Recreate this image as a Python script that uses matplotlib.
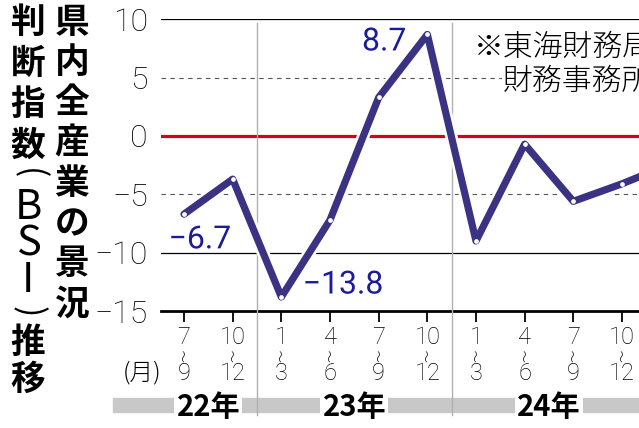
import matplotlib
matplotlib.use("Agg")
import matplotlib.pyplot as plt
import matplotlib.patheffects as pe
from matplotlib.transforms import blended_transform_factory
from matplotlib.patches import Rectangle

# ---------------- data ----------------
q_start = ["7", "10", "1", "4", "7", "10", "1", "4", "7", "10", "1"]
q_end = ["9", "12", "3", "6", "9", "12", "3", "6", "9", "12", "3"]
bsi = [-6.7, -3.7, -13.8, -7.2, 3.3, 8.7, -9.0, -0.7, -5.6, -4.1, -2.4]
years = ["22年", "23年", "24年"]
year_first = [0, 2, 6]
year_last = [1, 5, 9]
yticks = [10, 5, 0, -5, -10, -15]
ytick_labels = ["10", "5", "0", "−5", "−10", "−15"]
value_labels = {0: "−6.7", 2: "−13.8", 5: "8.7"}
title_right = list("県内全産業の景況")
title_left = ["判", "断", "指", "数", "(", "B\nS\nI", ")", "推", "移"]
note_1 = "※東海財務局静岡"
note_2 = "財務事務所調べ"
unit_label = "(月)"

# ---------------- layout ----------------
W, H = 639, 428
fig = plt.figure(figsize=(W / 100, H / 100), dpi=100)
fig.patch.set_facecolor("white")

def fx(px):
    return px / W

def fy(py):
    return 1 - py / H

ax_left, ax_bottom, ax_top = 161, 311, 19.3
ax = fig.add_axes([fx(ax_left), fy(ax_bottom), 1 - fx(ax_left), (ax_bottom - ax_top) / H])
ax.set_xlim(-0.473, 9.35)
ax.set_ylim(-15, 10)
ax.patch.set_alpha(0)
for s in ["top", "right", "left"]:
    ax.spines[s].set_visible(False)
ax.spines["bottom"].set_linewidth(2.0)
ax.spines["bottom"].set_color("black")

NUM = "Roboto"
JP = "Noto Sans CJK JP"

ax.set_yticks(yticks)
ax.set_yticklabels(ytick_labels, fontsize=23, family=NUM, fontweight="light")
ax.tick_params(axis="y", length=0, pad=9.5)
ax.set_xticks(range(10))
ax.set_xticklabels([])
ax.tick_params(axis="x", length=8, width=1.3, direction="out", color="black")

# horizontal reference lines
line_style = {
    10: dict(color="black", lw=0.9, ls="-"),
    5: dict(color="#555555", lw=0.8, ls=(0, (4, 4))),
    0: dict(color="#d4001f", lw=2.3, ls="-"),
    -5: dict(color="#555555", lw=0.8, ls=(0, (4, 4))),
    -10: dict(color="black", lw=0.9, ls="-"),
}
for v, st in line_style.items():
    ax.axhline(v, zorder=2, **st)

# year separators
bt = blended_transform_factory(ax.transData, ax.transAxes)
sep_top = (ax_bottom - 23) / (ax_bottom - ax_top)
sep_bot = (ax_bottom - 415) / (ax_bottom - ax_top)
for i in range(len(years) - 1):
    xs = (year_last[i] + year_first[i + 1]) / 2
    ax.plot([xs, xs], [sep_bot, sep_top], transform=bt, color="#b0b0b0", lw=1.0,
            clip_on=False, zorder=3)

# main line
xs_data = list(range(len(bsi)))
ax.plot(xs_data, bsi, color="#3a3282", lw=5.2, solid_joinstyle="round",
        solid_capstyle="round", zorder=5,
        path_effects=[pe.Stroke(linewidth=9.0, foreground="white"), pe.Normal()])
ax.plot(xs_data, bsi, ls="none", marker="o", ms=3.4, mfc="white", mec="white",
        mew=0, zorder=6)

# value labels
offsets = {0: (11.5, -18.5), 2: (44.5, 8.6), 5: (-31, -5.4)}
for i, txt in value_labels.items():
    ax.annotate(txt, xy=(i, bsi[i]), xytext=offsets[i], textcoords="offset points",
                ha="center", va="center", fontsize=23, family=NUM, color="#1c1c9a",
                zorder=7,
                path_effects=[pe.withStroke(linewidth=3, foreground="white")])

# month labels
bf = blended_transform_factory(ax.transData, fig.transFigure)
for i in range(10):
    ax.text(i, fy(337), q_start[i], transform=bf, ha="center", va="center",
            fontsize=17, family=NUM, fontweight="light")
    ax.text(i, fy(356), "〜", transform=bf, ha="center", va="center", rotation=90,
            fontsize=9, family=JP, fontweight="light")
    ax.text(i, fy(374), q_end[i], transform=bf, ha="center", va="center",
            fontsize=17, family=NUM, fontweight="light")
fig.text(fx(142), fy(373), unit_label, ha="center", va="center", fontsize=17,
         family=JP, fontweight="light")

# year band (drawn beneath the axes)
band = Rectangle((fx(113), fy(412)), 1 - fx(113), (412 - 398) / H,
                 transform=fig.transFigure, color="#c8c8c8", zorder=-5)
fig.patches.append(band)
for i, y in enumerate(years):
    mid = (year_first[i] + year_last[i]) / 2
    ax.text(mid, fy(407), y, transform=bf, ha="center", va="center", fontsize=21,
            family=JP, fontweight="bold", zorder=8,
            bbox=dict(facecolor="white", edgecolor="none", pad=1.5))

# vertical title
right_y = [22 + 40.3 * k for k in range(len(title_right))]
for ch, yy in zip(title_right, right_y):
    fig.text(fx(72), fy(yy), ch, ha="center", va="center", fontsize=25,
             family=JP, fontweight="bold")
left_y = [22, 63, 104, 145, 174, 244, 312, 342, 379]
for ch, yy in zip(title_left, left_y):
    if ch in "()":
        fig.text(fx(28), fy(yy), ch, ha="center", va="center", fontsize=24,
                 family=JP, fontweight="normal", rotation=-90)
    elif "\n" in ch:
        fig.text(fx(28), fy(yy), ch, ha="center", va="center", fontsize=30,
                 family=JP, fontweight="normal", linespacing=0.86,
                 multialignment="center")
    else:
        fig.text(fx(28), fy(yy), ch, ha="center", va="center", fontsize=25,
                 family=JP, fontweight="bold")

# source note (cut off by the right edge, as in the original)
fig.text(fx(474), fy(48), note_1, ha="left", va="center", fontsize=21.5, family=JP,
         fontweight="light", zorder=9,
         bbox=dict(facecolor="white", edgecolor="none", pad=1))
fig.text(fx(503), fy(82), note_2, ha="left", va="center", fontsize=21.5, family=JP,
         fontweight="light", zorder=9,
         bbox=dict(facecolor="white", edgecolor="none", pad=1))

fig.savefig("out.png", dpi=100, facecolor="white")
